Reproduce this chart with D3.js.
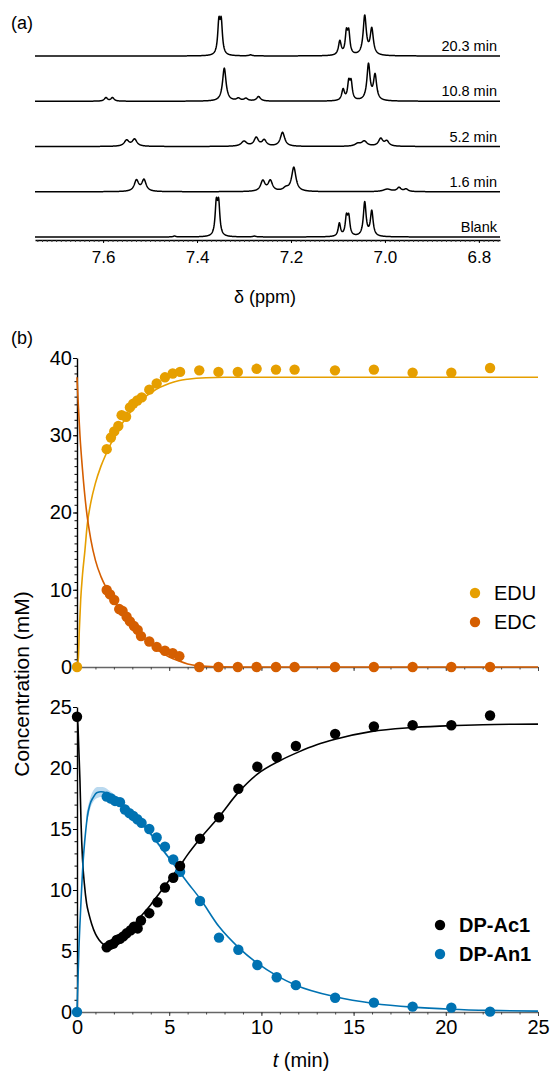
<!DOCTYPE html>
<html>
<head>
<meta charset="utf-8">
<script src="https://cdn.jsdelivr.net/npm/d3@7"></script>
<style>
  body { margin: 0; background: #fff; }
  svg { display: block; }
  text { font-family: "Liberation Sans", Arial, Helvetica, sans-serif; }
</style>
</head>
<body>
<svg id="fig" width="553" height="1074"></svg>
<script>
// ---------- (a) NMR spectra: peaks as [ppm, height (a.u.), fwhm (ppm)] ----------
var traceLabels = ["20.3 min", "10.8 min", "5.2 min", "1.6 min", "Blank"];
var ppmTicks = [7.6, 7.4, 7.2, 7.0, 6.8];

var peaks203 = [[7.3535, 31, .006], [7.3485, 31, .006], [7.096, 14, .007], [7.082, 21, .006], [7.077, 21, .006],
  [7.043, 39, .008], [7.028, 26, .008], [7.286, 1, .008]];
var peaks108 = [[7.594, 3.5, .008], [7.580, 3.5, .008], [7.342, 33, .009], [7.312, 2.5, .01], [7.296, 2.5, .01],
  [7.269, 4.5, .01], [7.089, 11, .007], [7.077, 17, .006], [7.072, 17, .006], [7.035, 36, .008], [7.021, 25, .008]];
var peaks52 = [[7.550, 6, .012], [7.533, 7, .012], [7.300, 5, .014], [7.274, 8.5, .011], [7.257, 6, .011],
  [7.218, 14, .011], [7.058, 2.5, .014], [7.044, 5, .014], [7.009, 7.5, .011], [6.996, 5, .011]];
var peaks16 = [[7.529, 11, .011], [7.513, 11.5, .011], [7.260, 10.5, .011], [7.244, 10.5, .011], [7.211, 3, .014],
  [7.194, 24, .011], [6.995, 2.5, .02], [6.970, 4, .01], [6.955, 2.5, .01]];
var peaksBlank = [[7.359, 31, .006], [7.354, 31, .006], [7.097, 13, .006], [7.082, 18, .006], [7.077, 18, .006],
  [7.043, 34, .007], [7.028, 25, .007], [7.448, 1, .006], [7.278, 0.8, .008]];
var peakSets = [peaks203, peaks108, peaks52, peaks16, peaksBlank];

// ---------- (b) kinetics: [t (min), concentration (mM)] ----------
var eduPts = [[0, 0], [1.61, 28.2], [1.84, 29.7], [2.02, 30.5], [2.24, 31.2], [2.42, 32.6], [2.66, 32.4], [2.87, 33.6],
  [3.05, 34.1], [3.27, 34.5], [3.51, 34.9], [3.92, 35.9], [4.32, 36.7], [4.77, 37.5], [5.19, 38.0], [5.59, 38.2],
  [6.63, 38.4], [7.67, 38.2], [8.72, 38.2], [9.74, 38.6], [10.79, 38.5], [11.8, 38.5], [13.99, 38.4], [16.1, 38.5],
  [18.2, 38.1], [20.3, 38.1], [22.4, 38.7]];
var edcPts = [[1.61, 9.97], [1.79, 9.4], [2.02, 8.67], [2.29, 7.5], [2.47, 7.25], [2.69, 6.5], [2.87, 5.9], [3.09, 5.3],
  [3.29, 4.8], [3.47, 4.0], [3.92, 3.3], [4.32, 2.6], [4.77, 2.1], [5.19, 1.8], [5.55, 1.4], [6.63, 0], [7.67, 0],
  [8.72, 0], [9.74, 0], [10.79, 0], [11.8, 0], [13.99, 0], [16.1, 0], [18.2, 0], [20.3, 0], [22.4, 0]];
var acPts = [[0, 24.2], [1.61, 5.3], [1.79, 5.5], [1.97, 5.6], [2.15, 5.9], [2.33, 6.0], [2.51, 6.2], [2.69, 6.45],
  [2.91, 6.7], [3.09, 7.0], [3.29, 6.85], [3.47, 7.5], [3.92, 8.1], [4.36, 9.0], [4.77, 10.2], [5.22, 11.0],
  [5.59, 11.97], [6.67, 14.2], [7.7, 15.96], [8.75, 18.3], [9.78, 20.1], [10.83, 20.9], [11.87, 21.8], [14.0, 22.8],
  [16.1, 23.4], [18.2, 23.5], [20.3, 23.5], [22.4, 24.3]];
var anPts = [[0, 0], [1.61, 17.65], [1.84, 17.5], [2.06, 17.3], [2.33, 17.2], [2.6, 16.6], [2.84, 16.3], [3.05, 16.07],
  [3.27, 15.8], [3.5, 15.5], [3.92, 15.0], [4.32, 14.3], [4.77, 13.55], [5.22, 12.5], [5.59, 11.5], [6.67, 9.1],
  [7.7, 6.1], [8.75, 5.1], [9.78, 3.85], [10.83, 2.85], [11.87, 2.2], [14.0, 1.17], [16.1, 0.77], [18.2, 0.44],
  [20.3, 0.36], [22.4, 0.03]];

// fitted curves
var eduFit = [[0, 0], [0.07, 1], [0.13, 5], [0.2, 8.7], [0.3, 12], [0.43, 15.1], [0.55, 18.3], [0.75, 21.3],
  [1.0, 23.8], [1.3, 26.0], [1.6, 27.7], [2.0, 29.7], [2.5, 31.7], [3.0, 33.3], [3.5, 34.6], [4.0, 35.5],
  [4.5, 36.2], [5.0, 36.7], [5.5, 37.05], [6.0, 37.25], [7.0, 37.45], [8.0, 37.5], [25, 37.5]];
var edcFit = [[0, 37.5], [0.08, 33.5], [0.16, 30], [0.3, 25.5], [0.5, 20.5], [0.75, 16.5], [1.0, 13.8], [1.3, 11.7],
  [1.6, 10.2], [2.0, 8.6], [2.5, 7.0], [3.0, 5.4], [3.5, 4.0], [4.0, 2.9], [4.5, 2.0], [5.0, 1.3], [5.5, 0.8],
  [6.0, 0.4], [6.6, 0.15], [7.5, 0.03], [9, 0], [25, 0]];
var acFit = [[0, 24.2], [0.05, 23.5], [0.1, 21.5], [0.16, 19.0], [0.22, 15.5], [0.3, 12.5], [0.4, 10.5], [0.52, 8.9],
  [0.65, 8.0], [0.8, 7.2], [1.0, 6.4], [1.2, 5.9], [1.43, 5.55], [1.6, 5.4], [2.0, 5.6], [2.5, 6.2], [3.0, 7.0],
  [3.5, 7.9], [4.0, 8.8], [4.5, 9.8], [5.0, 10.8], [5.5, 11.8], [6.0, 12.9], [6.67, 14.2], [7.7, 16.0], [8.75, 18.0],
  [9.78, 19.5], [11, 20.6], [12, 21.3], [13, 21.9], [14, 22.35], [16, 23.0], [18, 23.3], [20, 23.45], [22, 23.55],
  [25, 23.6]];
var anFit = [[0, 0], [0.05, 2.5], [0.1, 5], [0.2, 8.5], [0.34, 12.5], [0.45, 14.5], [0.56, 16], [0.7, 17],
  [0.88, 17.6], [1.1, 18], [1.3, 18.05], [1.6, 17.95], [2.0, 17.6], [2.5, 17.0], [3.0, 16.3], [3.5, 15.5],
  [4.0, 14.6], [4.5, 13.6], [5.0, 12.6], [5.5, 11.6], [6.0, 10.6], [6.67, 9.3], [7.7, 7.0], [8.75, 5.3],
  [9.78, 4.0], [10.8, 3.0], [11.87, 2.2], [14, 1.25], [16.1, 0.7], [18.2, 0.4], [20.3, 0.23], [22.4, 0.13], [25, 0.07]];
// confidence band around the DP-An1 fit: [t, low, high]
var anBand = [[0.5, 15.2, 16.2], [0.8, 17.0, 17.9], [1.1, 17.55, 18.45], [1.4, 17.65, 18.45], [1.8, 17.45, 18.1],
  [2.3, 16.9, 17.5], [2.8, 16.3, 16.8], [3.5, 15.3, 15.7], [4.5, 13.45, 13.75], [5.5, 11.5, 11.7]];

var seriesTop = ["EDU", "EDC"];
var seriesBot = ["DP-Ac1", "DP-An1"];
var tTicks = [0, 5, 10, 15, 20, 25];
var topTicks = [0, 10, 20, 30, 40];
var botTicks = [0, 5, 10, 15, 20, 25];

var colors = { "EDU": "#E69F00", "EDC": "#D55E00", "DP-Ac1": "#000000", "DP-An1": "#0072B2" };

var svg = d3.select("#fig");

// ================= panel (a) =================
var xA = d3.scaleLinear().domain([7.745, 6.755]).range([35, 500]);
var rowY = d3.scalePoint().domain(traceLabels).range([56, 237]);
var yInt = d3.scaleLinear().domain([0, 40]).range([0, 40]);
var grid = d3.range(7.745, 6.7549, -0.0005);

function spectrum(pk) {
  return grid.map(function (p) {
    var s = 0;
    pk.forEach(function (q) { var u = (p - q[0]) / (q[2] / 2); s += q[1] / (1 + u * u); });
    return [p, s];
  });
}

svg.append("text").attr("x", 11).attr("y", 29).style("font-size", "18px").text("(a)");

traceLabels.forEach(function (lab, i) {
  var base = rowY(lab);
  var line = d3.line().x(function (d) { return xA(d[0]); }).y(function (d) { return base - yInt(d[1]); });
  svg.append("path").datum(spectrum(peakSets[i]))
    .attr("d", line).attr("fill", "none").attr("stroke", "#000").attr("stroke-width", 1.5)
    .attr("stroke-linejoin", "round");
  svg.append("text").attr("x", 497).attr("y", base - 5).attr("text-anchor", "end")
    .style("font-size", "14.5px").text(lab);
});

var axA = svg.append("g").attr("transform", "translate(0,240)");
axA.call(d3.axisBottom(xA).tickValues(d3.range(6.76, 7.745, 0.01)).tickSize(2).tickSizeOuter(0).tickFormat(""));
axA.selectAll("line").attr("stroke", "#333");
axA.select(".domain").attr("stroke", "#000").attr("stroke-width", 1.6);
var axA2 = svg.append("g").attr("transform", "translate(0,240)");
axA2.call(d3.axisBottom(xA).tickValues(ppmTicks).tickSize(3).tickSizeOuter(0).tickPadding(8).tickFormat(d3.format(".1f")));
axA2.select(".domain").remove();
axA2.selectAll("text").style("font-size", "17px").attr("fill", "#000");
svg.append("text").attr("x", 265).attr("y", 303).attr("text-anchor", "middle").style("font-size", "18px")
  .text("\u03b4 (ppm)");

// ================= panel (b) =================
var xB = d3.scaleLinear().domain([0, 25]).range([77, 538]);
var yTop = d3.scaleLinear().domain([0, 40]).range([667, 358]);
var yBot = d3.scaleLinear().domain([0, 25]).range([1012, 707]);

svg.append("text").attr("x", 11).attr("y", 344).style("font-size", "18px").text("(b)");

function xAxis(y, labels) {
  var g = svg.append("g").attr("transform", "translate(0," + y + ")");
  g.call(d3.axisBottom(xB).tickValues(d3.range(0, 25.01, 1)).tickSize(2.5).tickSizeOuter(0).tickFormat(""));
  g.select(".domain").attr("stroke", "#666").attr("stroke-width", 1.6);
  g.selectAll("line").attr("stroke", "#444");
  var g2 = svg.append("g").attr("transform", "translate(0," + y + ")");
  g2.call(d3.axisBottom(xB).tickValues(tTicks).tickSize(4).tickSizeOuter(0).tickPadding(4)
    .tickFormat(labels ? d3.format("d") : ""));
  g2.select(".domain").remove();
  g2.selectAll("line").attr("stroke", "#444");
  g2.selectAll("text").style("font-size", "20px").attr("fill", "#000");
}
function yAxis(scale, ticks, max) {
  var g = svg.append("g").attr("transform", "translate(77,0)");
  g.call(d3.axisLeft(scale).tickValues(d3.range(0, max + 0.01, 1)).tickSize(2.5).tickSizeOuter(0).tickFormat(""));
  g.select(".domain").attr("stroke", "#000").attr("stroke-width", 1.4);
  var g2 = svg.append("g").attr("transform", "translate(77,0)");
  g2.call(d3.axisLeft(scale).tickValues(ticks).tickSize(4).tickSizeOuter(0).tickPadding(1));
  g2.select(".domain").remove();
  g2.selectAll("text").style("font-size", "20px").attr("fill", "#000");
}

xAxis(667, false);
xAxis(1012, true);
yAxis(yTop, topTicks, 40);
yAxis(yBot, botTicks, 25);

svg.append("text").attr("transform", "translate(29,684) rotate(-90)").attr("text-anchor", "middle")
  .style("font-size", "21px").text("Concentration (mM)");
var tl = svg.append("text").attr("x", 301).attr("y", 1067).attr("text-anchor", "middle").style("font-size", "20px");
tl.append("tspan").style("font-style", "italic").text("t");
tl.append("tspan").text(" (min)");

var curve = d3.curveMonotoneX;
function fitLine(ys) {
  return d3.line().curve(curve).x(function (d) { return xB(d[0]); }).y(function (d) { return ys(d[1]); });
}

// DP-An1 confidence band
svg.append("path").datum(anBand)
  .attr("d", d3.area().curve(curve).x(function (d) { return xB(d[0]); })
    .y0(function (d) { return yBot(d[1]); }).y1(function (d) { return yBot(d[2]); }))
  .attr("fill", "#9cc9e8").attr("opacity", 0.7);

[[eduFit, "EDU", yTop], [edcFit, "EDC", yTop], [acFit, "DP-Ac1", yBot], [anFit, "DP-An1", yBot]].forEach(function (f) {
  svg.append("path").datum(f[0]).attr("d", fitLine(f[2])).attr("fill", "none")
    .attr("stroke", colors[f[1]]).attr("stroke-width", 1.6);
});

function dots(pts, name, ys) {
  svg.append("g").selectAll("circle").data(pts).enter().append("circle")
    .attr("cx", function (d) { return xB(d[0]); })
    .attr("cy", function (d) { return ys(d[1]); })
    .attr("r", 5.2)
    .attr("fill", colors[name]);
}
dots(edcPts, "EDC", yTop);
dots(eduPts, "EDU", yTop);
dots(anPts, "DP-An1", yBot);
dots(acPts, "DP-Ac1", yBot);

// legends
function legend(names, x, y0, bold) {
  names.forEach(function (n, i) {
    var y = y0 + i * 29;
    svg.append("circle").attr("cx", x).attr("cy", y).attr("r", 5.2).attr("fill", colors[n]);
    svg.append("text").attr("x", x + 19).attr("y", y + 7).style("font-size", "20px")
      .style("font-weight", bold ? "bold" : "normal").text(n);
  });
}
legend(seriesTop, 475, 593, false);
legend(seriesBot, 440, 925, true);
</script>
</body>
</html>
